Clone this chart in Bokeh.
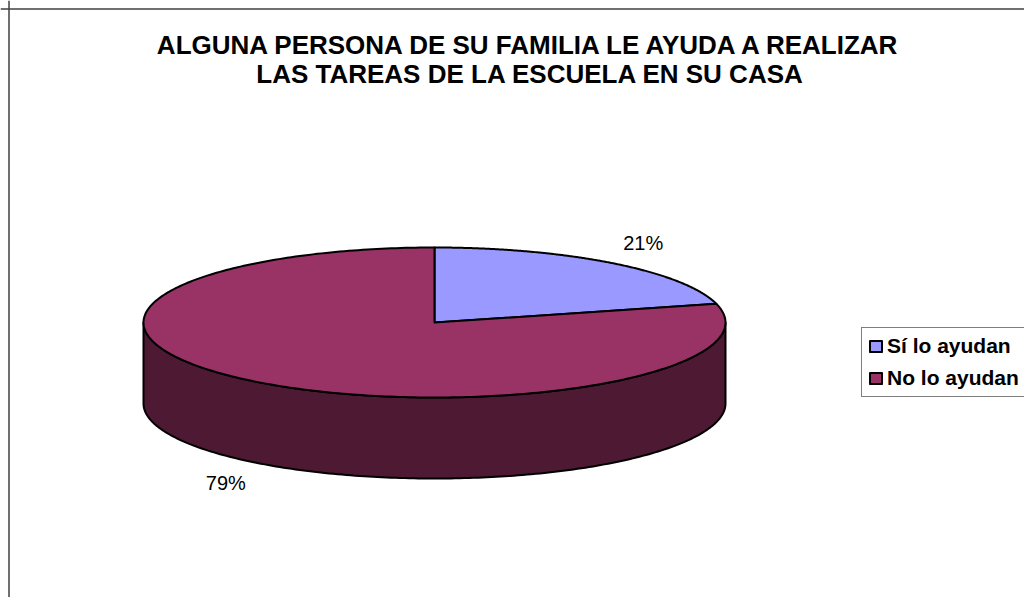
import numpy as np
from bokeh.plotting import figure
from bokeh.models import Range1d, Span, Legend, LegendItem, ColumnDataSource
from bokeh.core.properties import value
from bokeh.embed import file_html
from bokeh.resources import INLINE

# ---- data ----
title_lines = ["ALGUNA PERSONA DE SU FAMILIA LE AYUDA A REALIZAR",
               "LAS TAREAS DE LA ESCUELA EN SU CASA"]
categories = ["Sí lo ayudan", "No lo ayudan"]
values = [21, 79]
top_colors = ["#9999FF", "#993366"]
side_colors = ["#4D4D80", "#4D1933"]

# ---- layout (screen-like coordinates) ----
W, H = 1024, 597
CX, CY, RX, RY, DEPTH = 434, 322, 291, 75, 81
FONT = "Liberation Sans"

p = figure(width=W, height=H, x_range=Range1d(0, W), y_range=Range1d(H, 0),
           output_backend="svg", toolbar_location=None,
           x_axis_location=None, y_axis_location=None,
           min_border=0, outline_line_color=None,
           background_fill_color="white", border_fill_color="white")
p.grid.visible = False

# chart border (left and top visible; chart extends beyond the window)
p.add_layout(Span(location=8.5, dimension="height", line_color="#404040", line_width=1.5))
p.add_layout(Span(location=8.5, dimension="width", line_color="#404040", line_width=1.5))


def ex(t):
    return CX + RX * np.sin(np.radians(t))


def ey(t, d=0.0):
    return CY - RY * np.cos(np.radians(t)) + d


total = float(sum(values))
angles = np.cumsum([0] + [v / total * 360.0 for v in values])

# side faces (front half: 90..270 deg clockwise from top)
sx, sy, sc = [], [], []
for i in range(len(values)):
    a0, a1 = angles[i], angles[i + 1]
    s0, s1 = max(a0, 90.0), min(a1, 270.0)
    if s1 > s0:
        t = np.linspace(s0, s1, 200)
        xs = list(ex(t)) + list(ex(t[::-1]))
        ys = list(ey(t)) + list(ey(t[::-1], DEPTH))
        sx.append(xs); sy.append(ys); sc.append(side_colors[i])
p.patches(xs=sx, ys=sy, fill_color=sc, line_color="black", line_width=2, line_join="round")

# top faces
tx, ty = [], []
for i in range(len(values)):
    a0, a1 = angles[i], angles[i + 1]
    t = np.linspace(a0, a1, 300)
    tx.append([CX] + list(ex(t)))
    ty.append([CY] + list(ey(t)))
src = ColumnDataSource(dict(xs=tx, ys=ty, color=top_colors, label=categories))
top = p.patches(xs="xs", ys="ys", fill_color="color", line_color="black",
                line_width=2, line_join="round", source=src)

# percentage labels
lx, ly, lt = [], [], []
for i, v in enumerate(values):
    mid = (angles[i] + angles[i + 1]) / 2.0
    c = np.cos(np.radians(mid))
    lx.append(CX + 1.17 * RX * np.sin(np.radians(mid)))
    ly.append(CY - 1.34 * RY * c + (DEPTH if c < 0 else 0))
    lt.append(f"{round(v / total * 100)}%")
p.text(x=lx, y=ly, text=lt, text_font=value(FONT), text_font_size="20px",
       text_align="center", text_baseline="middle", text_color="black")

# title
p.text(x=[530, 530], y=[44.5, 73.5], text=title_lines,
       text_font=value(FONT), text_font_size="26px", text_font_style="bold",
       text_align="center", text_baseline="middle", text_color="black")

# legend
legend = Legend(items=[LegendItem(label=categories[i], renderers=[top], index=i)
                       for i in range(len(categories))],
                location=(861, H - 397), orientation="vertical",
                label_text_font=FONT, label_text_font_size="21px",
                label_text_font_style="bold", label_text_color="black",
                glyph_width=15, glyph_height=14, label_standoff=4,
                label_width=128, padding=6, spacing=8, margin=0,
                border_line_color="black", border_line_width=1,
                background_fill_color="white", background_fill_alpha=1)
p.add_layout(legend, "center")

open("out.html", "w").write(file_html(p, INLINE))
